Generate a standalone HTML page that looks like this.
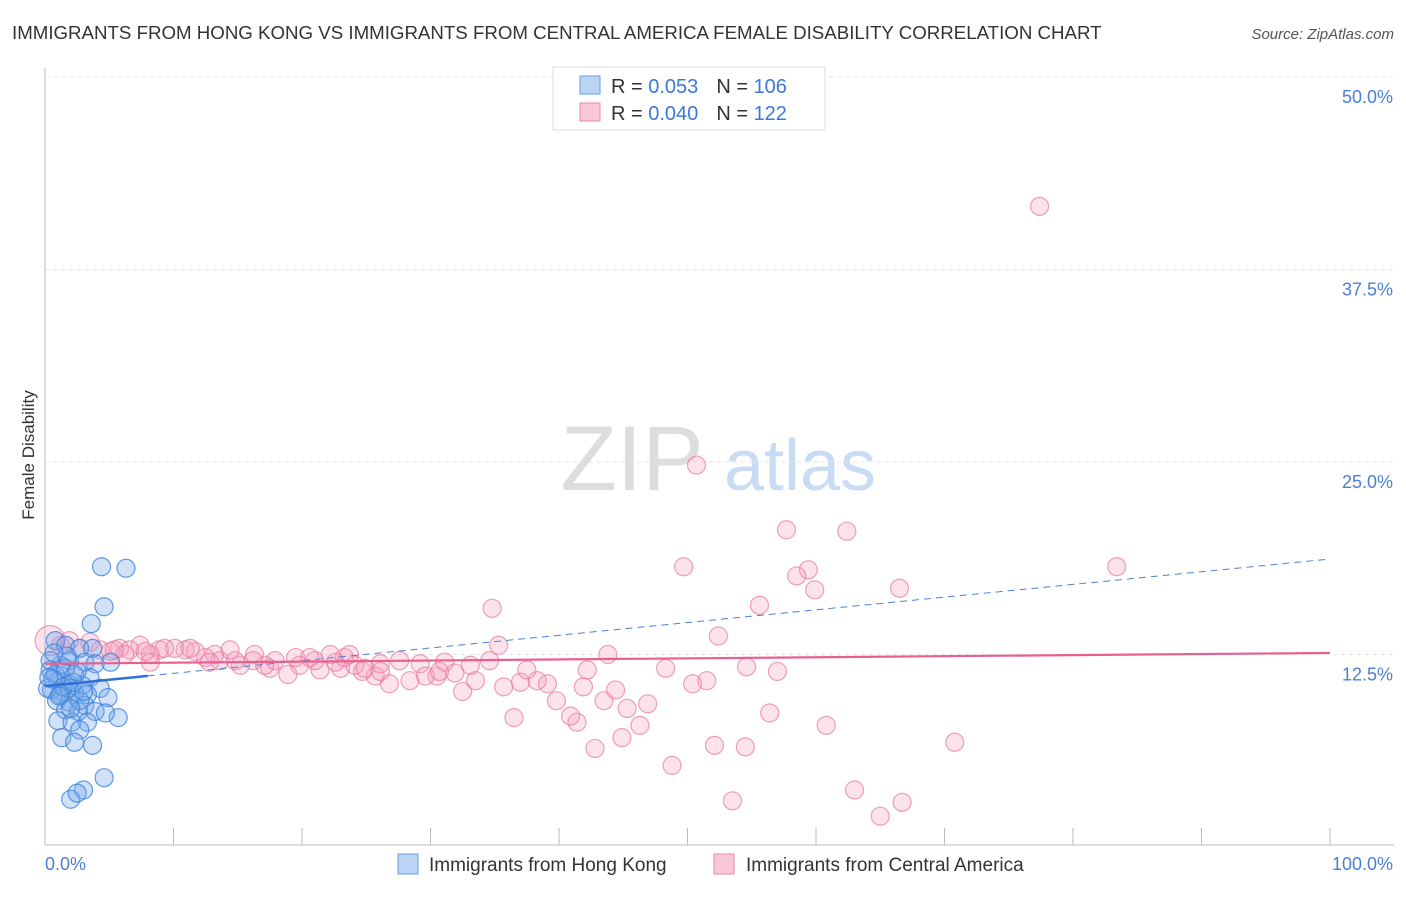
<!DOCTYPE html>
<html><head><meta charset="utf-8"><style>
body{margin:0;background:#fff;font-family:"Liberation Sans",sans-serif;}
svg text{font-family:"Liberation Sans",sans-serif;}
</style></head><body>
<svg id="chart" width="1406" height="892">
<text x="12" y="39" font-size="18.7" fill="#333">IMMIGRANTS FROM HONG KONG VS IMMIGRANTS FROM CENTRAL AMERICA FEMALE DISABILITY CORRELATION CHART</text>
<text x="1394" y="39" font-size="15" fill="#555" font-style="italic" text-anchor="end">Source: ZipAtlas.com</text>
<text x="34" y="455" font-size="17" fill="#333" transform="rotate(-90 34 455)" text-anchor="middle">Female Disability</text>
<g><text x="632" y="490" font-size="92" fill="#ddd" font-family="Liberation Serif" text-anchor="middle">ZIP</text><text x="800" y="490" font-size="72" fill="#c8dcf4" text-anchor="middle">atlas</text></g>
<g id="grid"></g><g id="pts"></g><g id="lines"></g>
<g>
<rect x="553" y="67" width="272" height="63" fill="#fff" stroke="#ddd"/>
<rect x="580" y="76" width="20" height="18" fill="#b9d4f5" stroke="#6a9ee0"/>
<rect x="580" y="103" width="20" height="18" fill="#f9c8d8" stroke="#e88aaa"/>
<text x="611" y="93" font-size="20" fill="#333">R = <tspan fill="#3b78d8">0.053</tspan><tspan dx="18">N = </tspan><tspan fill="#3b78d8">106</tspan></text>
<text x="611" y="120" font-size="20" fill="#333">R = <tspan fill="#3b78d8">0.040</tspan><tspan dx="18">N = </tspan><tspan fill="#3b78d8"> 122</tspan></text>
</g>
<g>
<rect x="398" y="854" width="20" height="20" fill="#b9d4f5" stroke="#6a9ee0"/>
<text x="429" y="871" font-size="19" fill="#333">Immigrants from Hong Kong</text>
<rect x="714" y="854" width="20" height="20" fill="#f9c8d8" stroke="#e88aaa"/>
<text x="746" y="871" font-size="19" fill="#333">Immigrants from Central America</text>
</g>
</svg>
<script>
const yTicks=[12.5,25,37.5,50];
const yTickLabels=["12.5%","25.0%","37.5%","50.0%"];
const xTicks=[0,10,20,30,40,50,60,70,80,90,100];
const blueX=[4.4,6.3,4.6,3.6,0.8,1.6,2.7,3.7,1.9,3.1,5.1,3.9,1.2,0.4,2.3,3.5,1.0,1.8,2.9,4.3,0.5,1.3,2.3,3.3,4.9,0.9,1.9,3.1,1.6,2.6,3.9,1.0,2.1,3.3,5.7,4.7,2.7,1.3,2.3,3.7,4.6,3.0,2.0,2.5,0.4,0.8,0.2,1.2,1.9,2.7,1.6,0.6,1.4,2.2,3.0,0.3,1.1,2.5,1.7,0.7,2.0];
const blueY=[18.2,18.1,15.6,14.5,13.4,13.1,12.9,12.9,12.1,12.0,12.0,11.9,11.8,11.5,11.2,11.0,10.8,10.6,10.5,10.3,10.2,10.1,10.0,9.9,9.7,9.5,9.4,9.2,8.9,8.8,8.8,8.2,8.1,8.1,8.4,8.7,7.6,7.1,6.8,6.6,4.5,3.7,3.1,3.5,12.1,11.2,10.3,9.9,10.3,9.5,11.6,10.9,10.4,10.7,10.1,11.0,9.8,11.4,12.4,12.6,9.0];
const pinkX=[77.4,50.7,57.7,62.4,83.4,49.7,59.4,58.5,59.9,66.5,55.6,34.8,52.4,35.3,43.8,70.8,60.8,56.4,54.5,52.1,48.8,53.5,63.0,66.7,65.0,42.8,44.9,46.3,45.3,46.9,41.4,40.9,36.5,39.8,43.5,44.4,41.9,48.3,50.4,51.5,54.6,57.0,39.1,38.3,37.0,35.7,32.5,33.5,37.5,42.2,30.5,28.4,26.8,25.7,24.7,23.0,21.4,19.8,18.9,17.5,15.2,13.6,12.5,10.9,8.9,7.4,5.8,4.3,2.7,1.2,0.4,1.9,3.5,5.1,6.6,8.2,10.1,11.7,13.2,14.8,16.3,17.9,19.5,21.0,22.6,24.1,26.1,27.6,29.2,31.1,33.1,34.6,31.9,29.6,24.9,23.3,20.6,17.1,14.4,11.3,9.3,7.8,6.2,12.8,8.2,5.4,23.7,22.2,16.2,30.7,26.1];
const pinkY=[41.6,24.8,20.6,20.5,18.2,18.2,18.0,17.6,16.7,16.8,15.7,15.5,13.7,13.1,12.5,6.8,7.9,8.7,6.5,6.6,5.3,3.0,3.7,2.9,2.0,6.4,7.1,7.9,9.0,9.3,8.1,8.5,8.4,9.5,9.5,10.2,10.4,11.6,10.6,10.8,11.7,11.4,10.6,10.8,10.7,10.4,10.1,10.8,11.5,11.5,11.1,10.8,10.6,11.1,11.4,11.6,11.5,11.8,11.2,11.6,11.8,12.1,12.3,12.8,12.8,13.1,12.9,12.8,12.9,13.1,13.4,13.4,13.3,12.7,12.8,12.5,12.9,12.7,12.5,12.1,12.5,12.1,12.3,12.1,12.0,11.8,11.9,12.1,11.9,12.0,11.8,12.1,11.3,11.1,11.6,12.3,12.3,11.8,12.8,12.9,12.9,12.7,12.5,12.0,12.0,12.8,12.5,12.5,12.1,11.4,11.4];
const blueTrend=[10.45,18.7];
const pinkTrend=[11.9,12.6];
const NS="http://www.w3.org/2000/svg";
const X=v=>45+v*12.85, Y=v=>847-v*15.4;
function mk(tag,attrs,parent){const e=document.createElementNS(NS,tag);for(const k in attrs)e.setAttribute(k,attrs[k]);parent.appendChild(e);return e;}
const grid=document.getElementById('grid');
let ax=mk('line',{x1:45,y1:68,x2:45,y2:845,stroke:'#bbb'},grid);


let bx=mk('line',{x1:45,y1:845,x2:1394,y2:845,stroke:'#bbb'},grid);


yTicks.forEach((t,i)=>{
 const g=mk('line',{x1:45,y1:Y(t),x2:1394,y2:Y(t),stroke:'#e4e4e4','stroke-dasharray':'4,4'},grid);
 
 
 const tx=mk('text',{x:1393,y:Y(t)+26,'font-size':18,fill:'#4a7fd4','text-anchor':'end'},grid);
 tx.textContent=yTickLabels[i];
 
 
});
xTicks.forEach(t=>{
 const l=mk('line',{x1:X(t),y1:828,x2:X(t),y2:845,stroke:'#bbb'},grid);
 
 
});
const xl=mk('text',{x:45,y:870,'font-size':18,fill:'#4a7fd4'},grid);xl.textContent='0.0%';


const xr=mk('text',{x:1393,y:870,'font-size':18,fill:'#4a7fd4','text-anchor':'end'},grid);xr.textContent='100.0%';


const pts=document.getElementById('pts');
pinkX.forEach((x,i)=>{
 const c=mk('circle',{cx:X(x),cy:Y(pinkY[i]),r:(i==70?15:9),fill:'rgba(244,160,190,0.3)',stroke:'rgba(232,120,160,0.7)','stroke-width':1.2},pts);
 
 
});
blueX.forEach((x,i)=>{
 const c=mk('circle',{cx:X(x),cy:Y(blueY[i]),r:9,fill:'rgba(120,170,235,0.35)',stroke:'rgba(60,130,220,0.8)','stroke-width':1.2},pts);
 
 
});
const lines=document.getElementById('lines');
const bs=t=>blueTrend[0]+(blueTrend[1]-blueTrend[0])*t/100;
let l1=mk('line',{x1:X(0),y1:Y(bs(0)),x2:X(8),y2:Y(bs(8)),stroke:'#2f6fd6','stroke-width':2.5},lines);


let l2=mk('line',{x1:X(8),y1:Y(bs(8)),x2:X(100),y2:Y(bs(100)),stroke:'#4a80d8','stroke-width':1,'stroke-dasharray':'7,5'},lines);


let l3=mk('line',{x1:X(0),y1:Y(pinkTrend[0]),x2:X(100),y2:Y(pinkTrend[1]),stroke:'#e8608e','stroke-width':2.2},lines);


</script>
</body></html>
